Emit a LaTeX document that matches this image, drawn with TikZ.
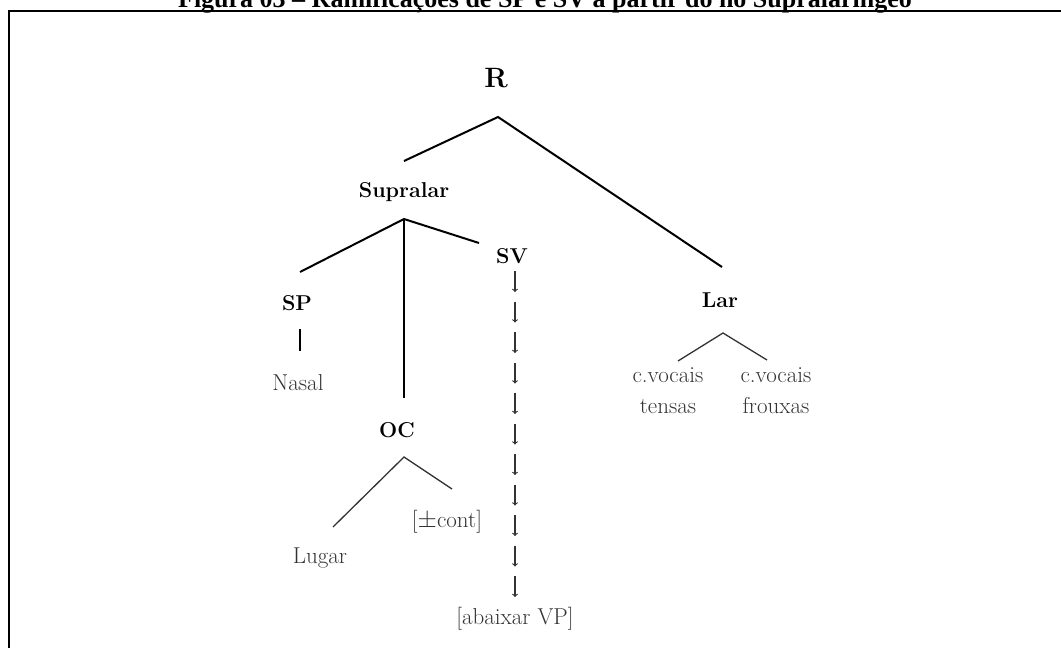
\documentclass[tikz,border=0pt]{standalone}
\usepackage{fontspec}
\newfontfamily\titlefont{Liberation Serif}
\usetikzlibrary{positioning}
\definecolor{leafgray}{gray}{0.2}
\tikzset{every node/.style={inner sep=0pt},
  feat/.style={anchor=base, font=\fontsize{21.5}{24}\selectfont\bfseries},
  leaf/.style={anchor=base, text=leafgray, font=\fontsize{23}{26}\selectfont},
  branch/.style={black, line width=2pt},
  twig/.style={leafgray, line width=1.3pt},
  svarrow/.style={->, leafgray, line width=1.1pt}}

\begin{document}
\begin{tikzpicture}[x=1pt,y=-1pt]
  \useasboundingbox (0,0) rectangle (1061,648);
  \clip (0,0) rectangle (1061,648);
  % caption (cut at the top) and frame
  \node[anchor=base, font=\titlefont\fontsize{26}{30}\selectfont\bfseries] (title) at (545,7.5)
    {Figura 03 – Ramificações de SP e SV a partir do nó Supralaríngeo};
  \draw[line width=2pt] (1070,11) -- (9,11) -- (9,660);

  % labels
  \node[anchor=base, font=\fontsize{28}{32}\selectfont\bfseries] (R) at (496,87) {R};
  \node[feat] (Supralar) at (404,197) {Supralar};
  \node[feat] (SP) at (297,310) {SP};
  \node[feat] (SV) at (512,263) {SV};
  \node[feat] (OC) at (397,437) {OC};
  \node[feat] (Lar) at (720,307) {Lar};
  \node[leaf] (Nasal) at (298,390) {Nasal};
  \node[leaf] (Lugar) at (320,563) {Lugar};
  \node[leaf] (cont) at (447,527) {[$\pm$cont]};
  \node[leaf] (abaixar) at (515,624) {[abaixar VP]};
  \node[leaf] (tensas-a) at (668,382) {c.vocais};
  \node[leaf] (tensas-b) at (668,413) {tensas};
  \node[leaf] (frouxas-a) at (776,382) {c.vocais};
  \node[leaf] (frouxas-b) at (776,413) {frouxas};

  % branch points and line ends
  \coordinate (R-fork) at (498,117);
  \coordinate (Supralar-top) at (404,161);
  \coordinate (Lar-top) at (722,267);
  \coordinate (Supralar-fork) at (404,219);
  \coordinate (SP-top) at (300,272);
  \coordinate (SV-top) at (479,243);
  \coordinate (OC-top) at (404,398);
  \coordinate (SP-foot) at (300,329);
  \coordinate (Nasal-top) at (300,351);
  \coordinate (OC-fork) at (404,457);
  \coordinate (Lugar-top) at (333,527);
  \coordinate (cont-top) at (452,489);
  \coordinate (Lar-fork) at (723,333);
  \coordinate (tensas-top) at (678,361);
  \coordinate (frouxas-top) at (767,360);

  \draw[branch] (Supralar-top) -- (R-fork) -- (Lar-top);
  \draw[branch] (SP-top) -- (Supralar-fork) -- (SV-top);
  \draw[branch] (Supralar-fork) -- (OC-top);
  \draw[branch] (SP-foot) -- (Nasal-top);
  \draw[twig] (Lugar-top) -- (OC-fork) -- (cont-top);
  \draw[twig] (tensas-top) -- (Lar-fork) -- (frouxas-top);

  % chain of arrows under SV
  \foreach \t in {0,...,10}
    \draw[svarrow] (515,271+30.5*\t) -- (515,292+30.5*\t);
\end{tikzpicture}
\end{document}
